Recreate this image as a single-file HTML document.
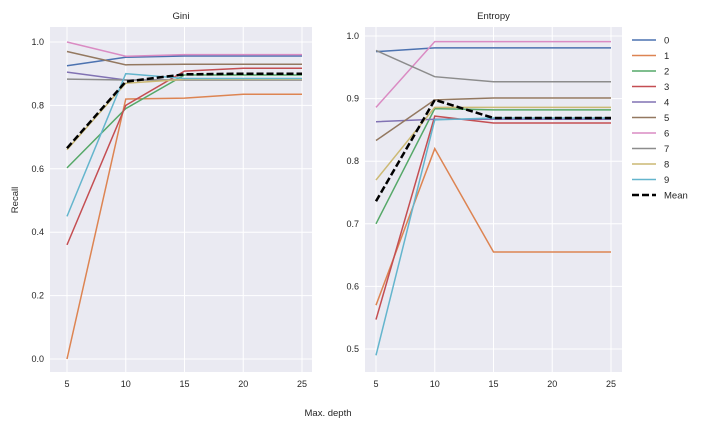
<!DOCTYPE html>
<html><head><meta charset="utf-8"><style>
body{margin:0;background:#fff;font-family:"Liberation Sans",sans-serif}
svg text{font-family:"Liberation Sans",sans-serif;fill:#262626}
</style></head><body>
<svg id="c" width="705" height="429" xmlns="http://www.w3.org/2000/svg"></svg>
<script>
const depths=[5,10,15,20,25];
const classLabels=["0","1","2","3","4","5","6","7","8","9"];
const giniValues=[
[0.925,0.952,0.956,0.956,0.956],
[0.0,0.82,0.823,0.835,0.835],
[0.603,0.79,0.896,0.896,0.896],
[0.36,0.80,0.908,0.917,0.917],
[0.905,0.88,0.88,0.88,0.88],
[0.97,0.928,0.93,0.93,0.93],
[1.0,0.955,0.96,0.96,0.96],
[0.883,0.88,0.88,0.88,0.88],
[0.66,0.87,0.882,0.882,0.882],
[0.45,0.90,0.885,0.885,0.885]];
const giniMean=[0.665,0.875,0.898,0.9,0.9];
const entropyValues=[
[0.975,0.981,0.981,0.981,0.981],
[0.57,0.82,0.655,0.655,0.655],
[0.70,0.884,0.882,0.882,0.882],
[0.547,0.872,0.861,0.861,0.861],
[0.863,0.867,0.867,0.867,0.867],
[0.833,0.898,0.901,0.901,0.901],
[0.886,0.991,0.991,0.991,0.991],
[0.977,0.935,0.927,0.927,0.927],
[0.77,0.886,0.886,0.886,0.886],
[0.49,0.866,0.869,0.869,0.869]];
const entropyMean=[0.736,0.898,0.869,0.869,0.869];
const giniTicks=[0.0,0.2,0.4,0.6,0.8,1.0];
const entropyTicks=[0.5,0.6,0.7,0.8,0.9,1.0];
const xTicks=[5,10,15,20,25];
const colors=["#4c72b0","#dd8452","#55a868","#c44e52","#8172b3","#937860","#da8bc3","#8c8c8c","#ccb974","#64b5cd"];
const NS="http://www.w3.org/2000/svg";
const svg=document.getElementById('c');
function mk(t,a,p){const e=document.createElementNS(NS,t);for(const k in a)e.setAttribute(k,a[k]);(p||svg).appendChild(e);return e;}
function panel(name,title,box,vals,mean,ticks,ymin,ymax,yfmt){
 const g=mk('g',{});
 
 
 const [x0,y0,x1,y1]=box;
 const xs=v=>box[4]+(v-5)/20*(box[5]-box[4]);
 const ys=v=>box[6]+(ymax-v)/(ymax-ymin)*(box[7]-box[6]);
 const bg=mk('rect',{x:x0,y:y0,width:x1-x0,height:y1-y0,fill:'#eaeaf2'},g);
 
 
 xTicks.forEach(t=>{mk('line',{x1:xs(t),x2:xs(t),y1:y0,y2:y1,stroke:'#fff','stroke-width':1},g);
  const tx=mk('text',{x:xs(t),y:y1+15,'font-size':9,'text-anchor':'middle'},g);tx.textContent=t;
  
  });
 ticks.forEach(t=>{mk('line',{x1:x0,x2:x1,y1:ys(t),y2:ys(t),stroke:'#fff','stroke-width':1},g);
  const tx=mk('text',{x:x0-6,y:ys(t)+3,'font-size':9,'text-anchor':'end'},g);tx.textContent=t.toFixed(1);
  
  });
 vals.forEach((s,i)=>{const l=mk('polyline',{points:s.map((v,j)=>xs(depths[j])+','+ys(v)).join(' '),fill:'none',stroke:colors[i],'stroke-width':1.5},g);
  
  });
 const m=mk('polyline',{points:mean.map((v,j)=>xs(depths[j])+','+ys(v)).join(' '),fill:'none',stroke:'#000','stroke-width':2.5,'stroke-dasharray':'7,3'},g);
 
 
 const tt=mk('text',{x:(x0+x1)/2,y:19,'font-size':9.5,'text-anchor':'middle'},g);tt.textContent=title;
 
 
}
// box: x0,y0,x1,y1, xpix@5, xpix@25, ypix@ymax, ypix@ymin
panel('gini','Gini',[50,27,312,372,67,302,42,359],giniValues,giniMean,giniTicks,0,1);
panel('entropy','Entropy',[365,27,622,372,376,611,36,349],entropyValues,entropyMean,entropyTicks,0.5,1.0);
const yl=mk('text',{x:18,y:200,'font-size':9.5,'text-anchor':'middle',transform:'rotate(-90 18 200)'});yl.textContent='Recall';


const xl=mk('text',{x:328,y:416,'font-size':9.5,'text-anchor':'middle'});xl.textContent='Max. depth';


const lg=mk('g',{});


const items=classLabels.map((c,i)=>[c,colors[i],false]).concat([['Mean','#000',true]]);
items.forEach((it,i)=>{const y=40+i*15.5;
 const e=mk('g',{},lg);
 
 
 mk('line',{x1:632,x2:656,y1:y,y2:y,stroke:it[1],'stroke-width':it[2]?2.5:1.5,'stroke-dasharray':it[2]?'7,3':'none'},e);
 const t=mk('text',{x:664,y:y+3.5,'font-size':9.5},e);t.textContent=it[0];});
</script>
</body></html>
